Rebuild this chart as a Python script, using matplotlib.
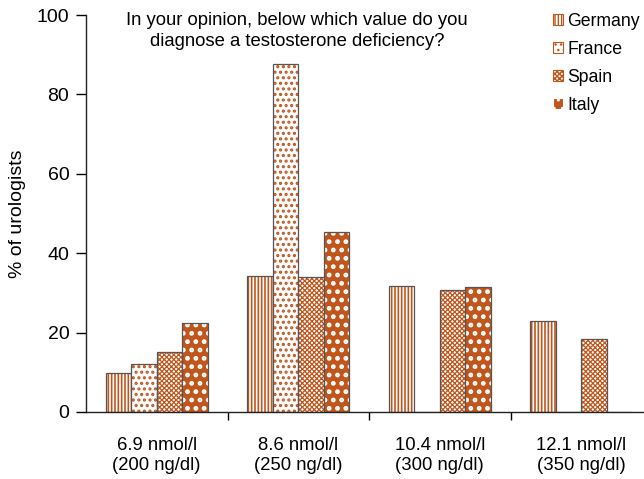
import numpy as np
import matplotlib
matplotlib.use('Agg')
import matplotlib.pyplot as plt
from matplotlib.patches import Patch

# data
categories = ['6.9 nmol/l\n(200 ng/dl)', '8.6 nmol/l\n(250 ng/dl)',
              '10.4 nmol/l\n(300 ng/dl)', '12.1 nmol/l\n(350 ng/dl)']
countries = ['Germany', 'France', 'Spain', 'Italy']
germany = [9.7, 34.2, 31.7, 22.8]
france = [12.2, 87.6, 0, 0]
spain = [15.0, 34.0, 30.8, 18.5]
italy = [22.4, 45.3, 31.4, 0]
yticks = [0, 20, 40, 60, 80, 100]

orange = '#C0561C'
plt.rcParams['font.family'] = ['Liberation Sans', 'DejaVu Sans']

# (face, hatch colour, hatch, hatch linewidth)
styles = [('white', orange, '|||||', 1.2),
          ('white', orange, '...', 1.5),
          ('white', orange, 'xxxxxxx', 0.9),
          (orange, 'white', '..', 2.2)]


def hatched(face, hcol, hatch, hlw, make):
    # hatch linewidth is taken from rcParams when the patch is made
    with plt.rc_context({'hatch.linewidth': hlw}):
        art = make(face, hcol, hatch)
    patches = art.patches if hasattr(art, 'patches') else [art]
    for p in patches:
        if hasattr(p, 'set_hatch_linewidth'):
            p.set_hatch_linewidth(hlw)
    return art


fig = plt.figure(figsize=(6.44, 4.79), dpi=100)
ax = fig.add_axes([86 / 644, 1 - 412 / 479, (652 - 86) / 644, (412 - 15) / 479])

x = np.arange(len(categories))
width = 0.18
series = [germany, france, spain, italy]
for i, vals in enumerate(series):
    face, hcol, hatch, hlw = styles[i]
    pos = x + (i - 1.5) * width
    hatched(face, hcol, hatch, hlw,
            lambda f, h, ht: ax.bar(pos, vals, width, color=f, edgecolor=h, linewidth=0, hatch=ht))
    ax.bar(pos, vals, width, fill=False, edgecolor='#555555', linewidth=0.9)

ax.set_xlim(-0.5, 3.5)
ax.set_ylim(0, 100)
ax.set_yticks(yticks)
ax.tick_params(axis='y', labelsize=14, length=7, width=1, pad=5)
ax.set_xticks(x)
ax.set_xticklabels(categories, fontsize=13.3)
ax.tick_params(axis='x', length=0, pad=18)
ax.set_xticks([0.5, 1.5, 2.5], minor=True)
ax.tick_params(axis='x', which='minor', length=6, width=1)
ax.set_ylabel('% of urologists', fontsize=14, labelpad=8)

for s in ['top', 'right']:
    ax.spines[s].set_visible(False)
for s in ['left', 'bottom']:
    ax.spines[s].set_linewidth(1)
    ax.spines[s].set_color('#222222')

fig.text(297 / 644, 1 - 31 / 479,
         'In your opinion, below which value do you\ndiagnose a testosterone deficiency?',
         ha='center', va='center', fontsize=13.3, linespacing=1.3)

handles = [hatched(f, h, ht, lw, lambda a, b, c: Patch(facecolor=a, edgecolor=b, hatch=c, linewidth=0.8))
           for f, h, ht, lw in styles]
ax.legend(handles, countries, loc='upper left', bbox_to_anchor=(553 / 644, 1 - 13 / 479),
          bbox_transform=fig.transFigure, frameon=False, fontsize=12.7,
          handlelength=0.57, handleheight=0.57, handletextpad=0.25,
          labelspacing=0.62, borderaxespad=0, borderpad=0)

fig.savefig('out.png', dpi=100)
